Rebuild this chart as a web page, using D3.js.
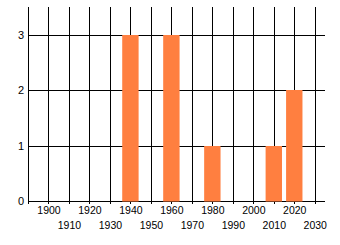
<!DOCTYPE html>
<html><head><meta charset="utf-8">
<script src="https://cdn.jsdelivr.net/npm/d3@7"></script>
<style>html,body{margin:0;padding:0;background:#fff;overflow:hidden}</style>
</head><body>
<svg id="c" width="340" height="245"></svg>
<script>
const years = [1940, 1960, 1980, 2010, 2020];
const counts = [3, 3, 1, 1, 2];
const xTickLabels = [1900, 1910, 1920, 1930, 1940, 1950, 1960, 1970, 1980, 1990, 2000, 2010, 2020, 2030];
const gridYears = [1890, 1900, 1910, 1920, 1930, 1940, 1950, 1960, 1970, 1980, 1990, 2000, 2010, 2020, 2030];
const yTicks = [0, 1, 2, 3];

const svg = d3.select("#c");
const yMax = 3.506;
const x = d3.scaleLinear().domain([1890, 2035]).range([28, 325]);
const y = d3.scaleLinear().domain([0, yMax]).range([201, 7]);
const font = "'Liberation Sans', Arial, sans-serif";

// vertical grid lines (with ticks below baseline)
svg.append("g").selectAll("line").data(gridYears).join("line")
  .attr("x1", d => Math.round(x(d)) + 0.5).attr("x2", d => Math.round(x(d)) + 0.5)
  .attr("y1", y(yMax)).attr("y2", y(0) + 3)
  .attr("stroke", "#000").attr("stroke-width", 1).attr("shape-rendering", "crispEdges");

// horizontal grid lines
svg.append("g").selectAll("line").data(yTicks).join("line")
  .attr("x1", x(1890)).attr("x2", x(2035))
  .attr("y1", d => Math.round(y(d)) + 0.5).attr("y2", d => Math.round(y(d)) + 0.5)
  .attr("stroke", "#000").attr("stroke-width", 1).attr("shape-rendering", "crispEdges");

// bars
const half = 4;
svg.append("g").selectAll("rect").data(years.map((yr, i) => ({yr, c: counts[i]}))).join("rect")
  .attr("x", d => x(d.yr - half)).attr("width", d => x(d.yr + half) - x(d.yr - half))
  .attr("y", d => Math.round(y(d.c))).attr("height", d => y(0) - Math.round(y(d.c)) + 0.5)
  .attr("fill", "#FF7F40");

// y labels
svg.append("g").selectAll("text").data(yTicks).join("text")
  .attr("x", 24).attr("y", d => y(d)).attr("dy", "0.35em")
  .attr("text-anchor", "end").attr("font-family", font).attr("font-size", "11px")
  .attr("fill", "#000").text(d => d);

// x labels, alternating rows
svg.append("g").selectAll("text").data(xTickLabels).join("text")
  .attr("x", d => x(d) + 0.5).attr("y", (d, i) => i % 2 === 0 ? 214 : 229)
  .attr("text-anchor", "middle").attr("font-family", font).attr("font-size", "10.5px")
  .attr("fill", "#000").text(d => d);
</script>
</body></html>
